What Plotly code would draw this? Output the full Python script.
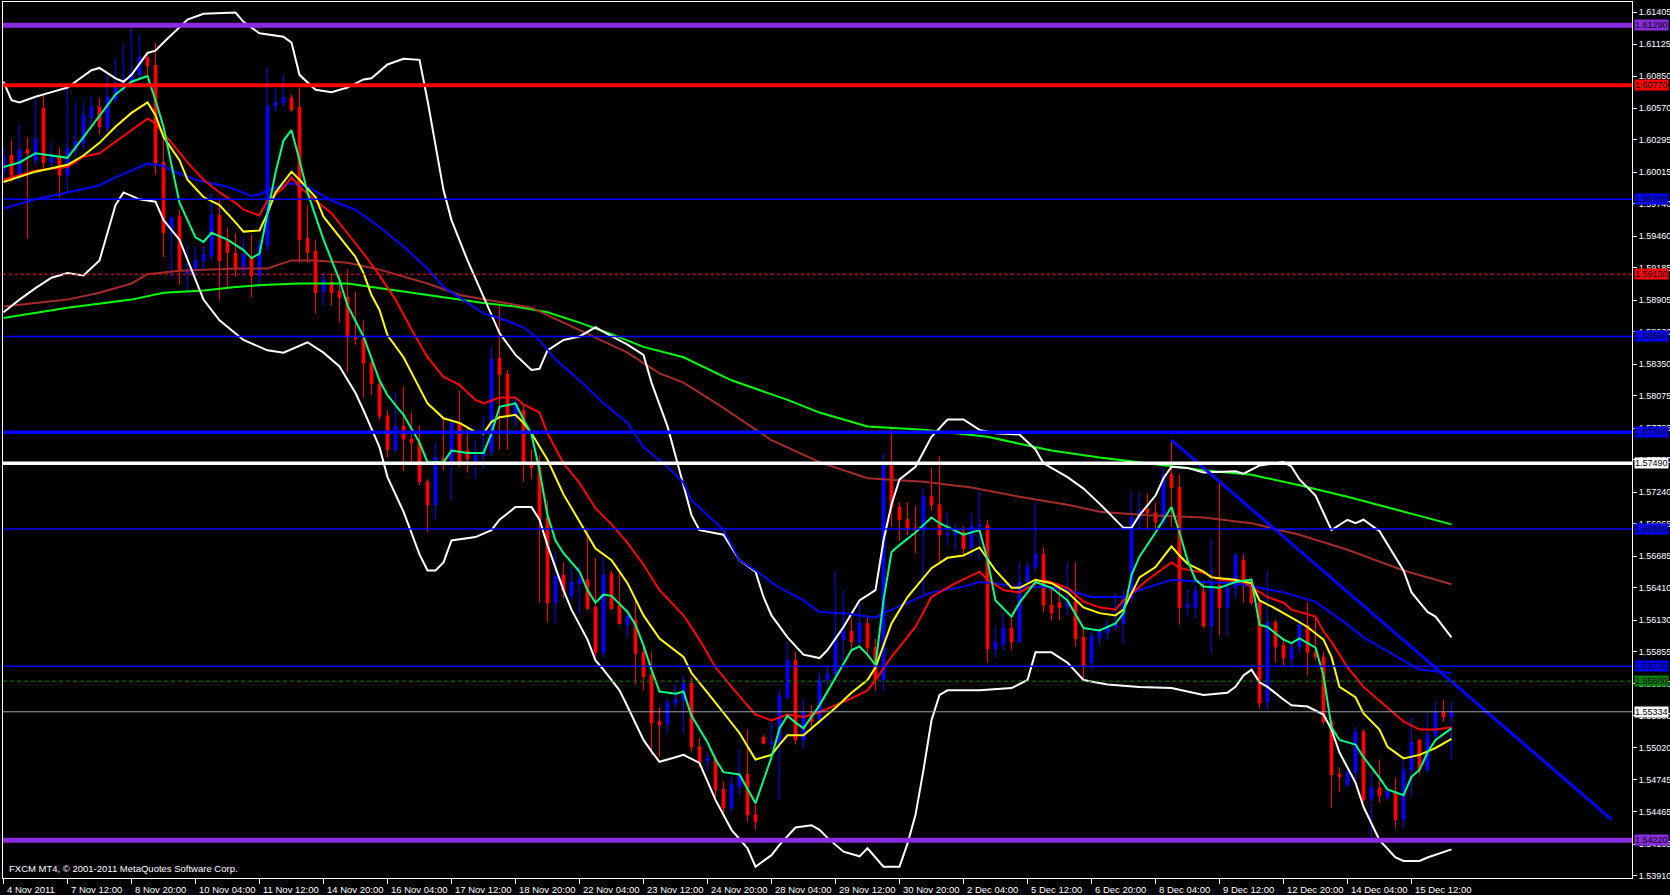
import plotly.graph_objects as go

# ---------------- data (H4 bars, 4 Nov 2011 .. 16 Dec 2011) ----------------
bars = list(range(182))

opens = [
    1.6001, 1.6016, 1.5999, 1.6021, 1.6012, 1.6057, 1.6010, 1.6016, 1.5999, 1.6021,
    1.6027, 1.6049, 1.6058, 1.6040, 1.6065, 1.6075, 1.6080, 1.6086, 1.6101, 1.6094,
    1.6010, 1.5949, 1.5963, 1.5914, 1.5918, 1.5925, 1.5929, 1.5964, 1.5943, 1.5931,
    1.5917, 1.5928, 1.5912, 1.5938, 1.6059, 1.6062, 1.6066, 1.6058, 1.5944, 1.5933,
    1.5898, 1.5906, 1.5898, 1.5893, 1.5858, 1.5857, 1.5836, 1.5818, 1.5790, 1.5761,
    1.5781, 1.5770, 1.5767, 1.5733, 1.5713, 1.5753, 1.5749, 1.5783, 1.5760, 1.5749,
    1.5756, 1.5759, 1.5840, 1.5826, 1.5788, 1.5795, 1.5749, 1.5745, 1.5702, 1.5628,
    1.5652, 1.5634, 1.5645, 1.5648, 1.5624, 1.5585, 1.5653, 1.5626, 1.5609, 1.5613,
    1.5585, 1.5565, 1.5525, 1.5523, 1.5541, 1.5543, 1.5558, 1.5503, 1.5491, 1.5493,
    1.5466, 1.5450, 1.5468, 1.5479, 1.5444, 1.5511, 1.5506, 1.5506, 1.5546, 1.5578,
    1.5509, 1.5533, 1.5525, 1.5561, 1.5566, 1.5596, 1.5603, 1.5594, 1.5610, 1.5589,
    1.5561, 1.5747, 1.5711, 1.5700, 1.5693, 1.5691, 1.5720, 1.5713, 1.5687, 1.5687,
    1.5689, 1.5676, 1.5694, 1.5695, 1.5588, 1.5592, 1.5606, 1.5594, 1.5646, 1.5659,
    1.5670, 1.5626, 1.5628, 1.5625, 1.5629, 1.5598, 1.5576, 1.5597, 1.5602, 1.5607,
    1.5610, 1.5632, 1.5701, 1.5709, 1.5706, 1.5698, 1.5739, 1.5728, 1.5624, 1.5624,
    1.5638, 1.5608, 1.5643, 1.5624, 1.5641, 1.5665, 1.5645, 1.5628, 1.5542, 1.5611,
    1.5591, 1.5579, 1.5590, 1.5608, 1.5585, 1.5581, 1.5525, 1.5479, 1.5470, 1.5481,
    1.5516, 1.5458, 1.5467, 1.5459, 1.5464, 1.5440, 1.5483, 1.5509, 1.5483, 1.5513,
    1.5533, 1.5529,
]

highs = [
    1.6023, 1.6029, 1.6042, 1.6032, 1.6064, 1.6068, 1.6027, 1.6023, 1.6075, 1.6062,
    1.6062, 1.6068, 1.6066, 1.6086, 1.6099, 1.6112, 1.6127, 1.6120, 1.6106, 1.6114,
    1.6035, 1.5963, 1.5969, 1.5937, 1.5937, 1.5937, 1.5983, 1.5977, 1.5953, 1.5949,
    1.5945, 1.5947, 1.5943, 1.6092, 1.6075, 1.6086, 1.6069, 1.6075, 1.5973, 1.5943,
    1.5914, 1.5914, 1.5912, 1.5917, 1.5898, 1.5873, 1.5843, 1.5821, 1.5795, 1.5811,
    1.5815, 1.5793, 1.5782, 1.5735, 1.5767, 1.5788, 1.5789, 1.5812, 1.5781, 1.5769,
    1.5790, 1.5850, 1.5886, 1.5830, 1.5806, 1.5800, 1.5761, 1.5756, 1.5717, 1.5672,
    1.5663, 1.5659, 1.5659, 1.5691, 1.5667, 1.5668, 1.5656, 1.5655, 1.5622, 1.5633,
    1.5591, 1.5585, 1.5537, 1.5545, 1.5557, 1.5565, 1.5563, 1.5511, 1.5498, 1.5496,
    1.5473, 1.5476, 1.5500, 1.5518, 1.5453, 1.5513, 1.5525, 1.5552, 1.5593, 1.5585,
    1.5544, 1.5539, 1.5568, 1.5574, 1.5655, 1.5638, 1.5615, 1.5627, 1.5617, 1.5597,
    1.5757, 1.5780, 1.5715, 1.5715, 1.5712, 1.5728, 1.5745, 1.5755, 1.5707, 1.5696,
    1.5694, 1.5706, 1.5724, 1.5700, 1.5607, 1.5619, 1.5615, 1.5663, 1.5663, 1.5715,
    1.5676, 1.5641, 1.5642, 1.5663, 1.5663, 1.5607, 1.5603, 1.5607, 1.5613, 1.5636,
    1.5639, 1.5723, 1.5723, 1.5723, 1.5715, 1.5745, 1.5769, 1.5739, 1.5639, 1.5643,
    1.5645, 1.5682, 1.5732, 1.5646, 1.5671, 1.5670, 1.5650, 1.5629, 1.5656, 1.5613,
    1.5596, 1.5593, 1.5613, 1.5628, 1.5615, 1.5585, 1.5526, 1.5485, 1.5483, 1.5520,
    1.5518, 1.5480, 1.5492, 1.5467, 1.5476, 1.5492, 1.5528, 1.5509, 1.5532, 1.5542,
    1.5544, 1.5542,
]

lows = [
    1.5996, 1.5993, 1.5993, 1.5944, 1.6008, 1.6005, 1.6005, 1.5980, 1.5984, 1.6016,
    1.6022, 1.6042, 1.6034, 1.6036, 1.6062, 1.6071, 1.6076, 1.6081, 1.6086, 1.5999,
    1.5928, 1.5910, 1.5904, 1.5899, 1.5912, 1.5917, 1.5925, 1.5891, 1.5902, 1.5911,
    1.5912, 1.5893, 1.5901, 1.5934, 1.6054, 1.6059, 1.6054, 1.5923, 1.5923, 1.5879,
    1.5886, 1.5886, 1.5871, 1.5828, 1.5852, 1.5806, 1.5808, 1.5787, 1.5754, 1.5759,
    1.5742, 1.5749, 1.5730, 1.5689, 1.5700, 1.5743, 1.5717, 1.5746, 1.5741, 1.5736,
    1.5745, 1.5756, 1.5761, 1.5761, 1.5781, 1.5733, 1.5735, 1.5628, 1.5611, 1.5610,
    1.5632, 1.5630, 1.5619, 1.5622, 1.5581, 1.5581, 1.5622, 1.5609, 1.5598, 1.5557,
    1.5552, 1.5496, 1.5494, 1.5516, 1.5537, 1.5515, 1.5499, 1.5485, 1.5483, 1.5459,
    1.5444, 1.5447, 1.5461, 1.5438, 1.5431, 1.5505, 1.5502, 1.5457, 1.5544, 1.5505,
    1.5502, 1.5518, 1.5522, 1.5557, 1.5561, 1.5577, 1.5587, 1.5589, 1.5583, 1.5552,
    1.5552, 1.5694, 1.5682, 1.5687, 1.5671, 1.5635, 1.5708, 1.5663, 1.5678, 1.5674,
    1.5670, 1.5668, 1.5665, 1.5576, 1.5581, 1.5587, 1.5587, 1.5593, 1.5643, 1.5656,
    1.5620, 1.5613, 1.5613, 1.5617, 1.5590, 1.5563, 1.5570, 1.5591, 1.5596, 1.5604,
    1.5593, 1.5628, 1.5691, 1.5691, 1.5691, 1.5695, 1.5694, 1.5609, 1.5616, 1.5615,
    1.5606, 1.5584, 1.5600, 1.5600, 1.5632, 1.5628, 1.5626, 1.5537, 1.5535, 1.5576,
    1.5574, 1.5572, 1.5584, 1.5565, 1.5578, 1.5522, 1.5450, 1.5464, 1.5468, 1.5472,
    1.5455, 1.5422, 1.5454, 1.5457, 1.5433, 1.5433, 1.5461, 1.5479, 1.5481, 1.5509,
    1.5525, 1.5492,
]

closes = [
    1.6016, 1.5999, 1.6021, 1.6018, 1.6030, 1.6010, 1.6015, 1.5999, 1.6022, 1.6028,
    1.6051, 1.6058, 1.6041, 1.6067, 1.6075, 1.6080, 1.6088, 1.6101, 1.6094, 1.6010,
    1.5949, 1.5962, 1.5917, 1.5917, 1.5925, 1.5930, 1.5964, 1.5925, 1.5932, 1.5917,
    1.5930, 1.5912, 1.5938, 1.6059, 1.6062, 1.6066, 1.6056, 1.5943, 1.5932, 1.5897,
    1.5908, 1.5897, 1.5893, 1.5858, 1.5857, 1.5836, 1.5818, 1.5790, 1.5761, 1.5781,
    1.5770, 1.5767, 1.5733, 1.5713, 1.5754, 1.5749, 1.5784, 1.5749, 1.5753, 1.5756,
    1.5759, 1.5839, 1.5826, 1.5791, 1.5802, 1.5749, 1.5745, 1.5700, 1.5628, 1.5651,
    1.5638, 1.5646, 1.5648, 1.5623, 1.5585, 1.5652, 1.5623, 1.5610, 1.5616, 1.5584,
    1.5564, 1.5524, 1.5522, 1.5541, 1.5544, 1.5558, 1.5503, 1.5490, 1.5493, 1.5466,
    1.5450, 1.5470, 1.5479, 1.5444, 1.5438, 1.5506, 1.5507, 1.5547, 1.5578, 1.5509,
    1.5533, 1.5525, 1.5561, 1.5566, 1.5598, 1.5603, 1.5594, 1.5610, 1.5589, 1.5561,
    1.5747, 1.5711, 1.5700, 1.5693, 1.5691, 1.5720, 1.5713, 1.5687, 1.5688, 1.5689,
    1.5675, 1.5694, 1.5696, 1.5588, 1.5594, 1.5606, 1.5594, 1.5646, 1.5659, 1.5670,
    1.5626, 1.5619, 1.5624, 1.5629, 1.5597, 1.5573, 1.5599, 1.5603, 1.5608, 1.5610,
    1.5632, 1.5702, 1.5708, 1.5706, 1.5698, 1.5739, 1.5728, 1.5624, 1.5627, 1.5638,
    1.5608, 1.5645, 1.5624, 1.5641, 1.5669, 1.5645, 1.5628, 1.5541, 1.5611, 1.5590,
    1.5580, 1.5589, 1.5609, 1.5585, 1.5581, 1.5525, 1.5479, 1.5477, 1.5481, 1.5516,
    1.5457, 1.5468, 1.5461, 1.5464, 1.5440, 1.5483, 1.5507, 1.5483, 1.5513, 1.5533,
    1.5529, 1.55334,
]

# indicator lines (bar index, price)
fast_ma_x = [0, 2, 4, 6, 8, 10, 12, 14, 16, 18, 19, 20, 22, 24, 25, 26, 28, 30, 31, 32,
             33, 34, 35, 36, 37, 38, 40, 42, 43, 45, 47, 48, 50, 52, 53, 55, 56, 58, 60, 61,
             62, 64, 65, 66, 67, 68, 69, 70, 72, 73, 74, 75, 76, 78, 79, 80, 81, 82, 84, 85,
             86, 87, 88, 89, 90, 92, 93, 94, 95, 96, 97, 98, 99, 100, 102, 104, 106, 107, 108, 109,
             110, 111, 112, 114, 116, 117, 120, 122, 123, 124, 126, 127, 129, 131, 133, 135, 137, 139, 140, 141,
             142, 144, 146, 147, 148, 149, 150, 152, 154, 156, 157, 158, 160, 161, 162, 164, 165, 166, 167, 169,
             170, 172, 173, 175, 176, 177, 178, 179, 181]
fast_ma = [1.6006, 1.6010, 1.6018, 1.6016, 1.6014, 1.6032, 1.6050, 1.6069, 1.6080, 1.6085,
           1.6064, 1.6041, 1.5975, 1.5945, 1.5941, 1.5949, 1.5943, 1.5934, 1.5927, 1.5931,
           1.5966, 1.6001, 1.6029, 1.6038, 1.6012, 1.5984, 1.5943, 1.5908, 1.5886, 1.5859,
           1.5821, 1.5808, 1.5791, 1.5767, 1.5750, 1.5750, 1.5760, 1.5758, 1.5758, 1.5775,
           1.5798, 1.5801, 1.5787, 1.5774, 1.5743, 1.5704, 1.5682, 1.5671, 1.5655, 1.5639,
           1.5628, 1.5635, 1.5634, 1.5620, 1.5609, 1.5591, 1.5570, 1.5551, 1.5549, 1.5551,
           1.5530, 1.5518, 1.5507, 1.5492, 1.5481, 1.5479, 1.5466, 1.5454, 1.5474, 1.5494,
           1.5519, 1.5530, 1.5524, 1.5519, 1.5539, 1.5563, 1.5587, 1.5590, 1.5583, 1.5574,
           1.5630, 1.5672, 1.5678, 1.5689, 1.5702, 1.5697, 1.5687, 1.5691, 1.5665, 1.5630,
           1.5616, 1.5628, 1.5646, 1.5641, 1.5630, 1.5606, 1.5604, 1.5610, 1.5619, 1.5652,
           1.5668, 1.5689, 1.5711, 1.5689, 1.5665, 1.5648, 1.5642, 1.5641, 1.5646, 1.5648,
           1.5609, 1.5607, 1.5596, 1.5593, 1.5597, 1.5589, 1.5565, 1.5520, 1.5509, 1.5505,
           1.5494, 1.5476, 1.5466, 1.5461, 1.5477, 1.5483, 1.5498, 1.5509, 1.5519]

yellow_ma_x = [0, 4, 8, 10, 12, 14, 16, 18, 19, 20, 22, 23, 25, 27, 29, 30, 32, 33, 34, 36,
               37, 39, 40, 42, 44, 45, 46, 47, 48, 50, 53, 55, 57, 59, 60, 61, 62, 64, 65, 66,
               68, 70, 72, 74, 76, 78, 80, 82, 85, 86, 88, 90, 92, 94, 96, 97, 98, 100, 102, 104,
               106, 108, 109, 111, 113, 116, 118, 120, 122, 124, 126, 127, 129, 131, 133, 135, 137, 139, 140, 142,
               144, 146, 147, 148, 150, 151, 154, 156, 157, 159, 161, 163, 165, 166, 167, 169, 170, 172, 173, 175,
               177, 179, 181]
yellow_ma = [1.5993, 1.6002, 1.6008, 1.6016, 1.6027, 1.6041, 1.6053, 1.6062, 1.6051, 1.6032,
             1.6012, 1.5995, 1.5980, 1.5973, 1.5958, 1.5950, 1.5951, 1.5966, 1.5984, 1.6002,
             1.5995, 1.5980, 1.5963, 1.5945, 1.5928, 1.5914, 1.5895, 1.5882, 1.5860, 1.5841,
             1.5801, 1.5788, 1.5784, 1.5776, 1.5775, 1.5785, 1.5789, 1.5791, 1.5784, 1.5775,
             1.5752, 1.5722, 1.5698, 1.5675, 1.5665, 1.5645, 1.5617, 1.5597, 1.5581, 1.5567,
             1.5550, 1.5532, 1.5515, 1.5492, 1.5496, 1.5505, 1.5513, 1.5513, 1.5525, 1.5537,
             1.5550, 1.5561, 1.5572, 1.5610, 1.5633, 1.5658, 1.5667, 1.5669, 1.5676, 1.5656,
             1.5641, 1.5641, 1.5648, 1.5645, 1.5637, 1.5624, 1.5619, 1.5617, 1.5622, 1.5650,
             1.5659, 1.5677, 1.5669, 1.5662, 1.5655, 1.5650, 1.5648, 1.5645, 1.5630, 1.5623,
             1.5615, 1.5607, 1.5596, 1.5581, 1.5555, 1.5546, 1.5532, 1.5518, 1.5503, 1.5493,
             1.5496, 1.5502, 1.5510]

red_ma_x = [0, 4, 8, 10, 12, 14, 16, 18, 19, 21, 23, 25, 27, 29, 30, 32, 33, 35, 36, 37,
            39, 41, 43, 45, 47, 49, 51, 53, 55, 57, 59, 60, 62, 64, 65, 67, 68, 70, 72, 74,
            76, 78, 80, 82, 85, 87, 89, 91, 94, 96, 98, 100, 102, 104, 106, 108, 109, 111, 114, 116,
            119, 122, 123, 125, 127, 130, 133, 135, 137, 139, 140, 143, 146, 147, 150, 152, 155, 158, 160, 161,
            164, 165, 166, 168, 170, 173, 175, 177, 179, 181]
red_ma = [1.5995, 1.6003, 1.6006, 1.6015, 1.6018, 1.6028, 1.6038, 1.6048, 1.6044, 1.6027,
          1.6010, 1.5995, 1.5984, 1.5975, 1.5969, 1.5964, 1.5977, 1.5988, 1.5997, 1.5989,
          1.5977, 1.5966, 1.5949, 1.5931, 1.5912, 1.5891, 1.5865, 1.5841, 1.5824, 1.5817,
          1.5804, 1.5801, 1.5806, 1.5806, 1.5800, 1.5793, 1.5775, 1.5749, 1.5732, 1.5710,
          1.5696, 1.5680, 1.5661, 1.5639, 1.5617, 1.5596, 1.5572, 1.5555, 1.5531, 1.5526,
          1.5531, 1.5529, 1.5533, 1.5539, 1.5545, 1.5552, 1.5561, 1.5581, 1.5607, 1.5633,
          1.5645, 1.5655, 1.5648, 1.5639, 1.5637, 1.5648, 1.5641, 1.5629, 1.5624, 1.5622,
          1.5630, 1.5648, 1.5663, 1.5658, 1.5654, 1.5648, 1.5646, 1.5633, 1.5628, 1.5622,
          1.5616, 1.5603, 1.5594, 1.5572, 1.5555, 1.5537, 1.5525, 1.5518, 1.5518, 1.5520]

blue_ma_x = [0, 4, 8, 12, 14, 16, 18, 20, 21, 24, 28, 31, 32, 33, 36, 38, 41, 44, 47, 50,
             53, 55, 58, 60, 62, 65, 67, 69, 72, 75, 78, 80, 83, 85, 86, 90, 92, 94, 97, 100,
             102, 105, 108, 109, 110, 113, 116, 120, 122, 124, 127, 130, 133, 136, 140, 142, 146, 150, 154, 157,
             160, 164, 166, 168, 170, 175, 177, 181]
blue_ma = [1.5970, 1.5978, 1.5984, 1.5990, 1.5997, 1.6003, 1.6009, 1.6007, 1.6003, 1.5995,
           1.5989, 1.5981, 1.5982, 1.5986, 1.5992, 1.5989, 1.5977, 1.5969, 1.5954, 1.5937,
           1.5918, 1.5902, 1.5888, 1.5879, 1.5875, 1.5867, 1.5856, 1.5839, 1.5821, 1.5801,
           1.5784, 1.5763, 1.5746, 1.5732, 1.5717, 1.5691, 1.5665, 1.5656, 1.5641, 1.5630,
           1.5620, 1.5619, 1.5616, 1.5615, 1.5619, 1.5628, 1.5637, 1.5642, 1.5646, 1.5645,
           1.5641, 1.5642, 1.5639, 1.5633, 1.5633, 1.5639, 1.5648, 1.5646, 1.5645, 1.5641,
           1.5637, 1.5629, 1.5619, 1.5609, 1.5598, 1.5578, 1.5570, 1.5567]

brown_ma_x = [0, 8, 12, 16, 18, 22, 29, 33, 36, 39, 43, 47, 53, 57, 62, 66, 70, 74, 78, 82,
              85, 90, 96, 102, 108, 115, 121, 127, 133, 137, 143, 150, 156, 162, 168, 175, 181]
brown_ma = [1.5885, 1.5891, 1.5897, 1.5905, 1.5913, 1.5916, 1.5918, 1.5918, 1.5925, 1.5925,
            1.5923, 1.5917, 1.5905, 1.5895, 1.5889, 1.5884, 1.5871, 1.5858, 1.5845, 1.5827,
            1.5819, 1.5797, 1.5769, 1.5750, 1.5736, 1.5733, 1.5728, 1.5720, 1.5713, 1.5707,
            1.5704, 1.5702, 1.5697, 1.5687, 1.5674, 1.5656, 1.5644]

lime_ma_x = [0, 8, 16, 20, 25, 29, 33, 37, 43, 47, 51, 55, 60, 64, 68, 72, 76, 80, 85, 91,
             98, 102, 108, 115, 123, 131, 137, 143, 150, 156, 162, 168, 175, 181]
lime_ma = [1.5875, 1.5884, 1.5891, 1.5897, 1.5899, 1.5902, 1.5904, 1.5905, 1.5905, 1.5901,
           1.5897, 1.5893, 1.5888, 1.5885, 1.5880, 1.5871, 1.5861, 1.5850, 1.5841, 1.5821,
           1.5804, 1.5793, 1.5781, 1.5778, 1.5772, 1.5760, 1.5754, 1.5749, 1.5743, 1.5739,
           1.5730, 1.5720, 1.5707, 1.5696]

bb_upper_x = [0, 1, 2, 4, 6, 8, 9, 11, 12, 14, 15, 16, 18, 19, 20, 22, 23, 25, 29, 30,
              32, 35, 36, 37, 39, 41, 43, 45, 46, 48, 50, 52, 53, 55, 56, 58, 60, 62, 64, 66,
              67, 68, 70, 72, 74, 75, 78, 80, 81, 83, 85, 86, 87, 90, 92, 94, 95, 96, 98, 100,
              102, 103, 105, 107, 109, 110, 111, 112, 114, 116, 118, 120, 122, 124, 127, 129, 130, 133, 135, 137,
              140, 141, 142, 144, 145, 146, 148, 150, 154, 155, 157, 160, 161, 162, 164, 166, 168, 169, 170, 172,
              175, 176, 178, 179, 181]
bb_upper = [1.6080, 1.6064, 1.6062, 1.6067, 1.6071, 1.6075, 1.6080, 1.6090, 1.6092, 1.6083,
            1.6080, 1.6086, 1.6105, 1.6107, 1.6114, 1.6127, 1.6134, 1.6139, 1.6140, 1.6132,
            1.6122, 1.6119, 1.6114, 1.6086, 1.6073, 1.6071, 1.6075, 1.6082, 1.6083, 1.6095,
            1.6100, 1.6099, 1.6064, 1.5986, 1.5960, 1.5925, 1.5893, 1.5862, 1.5843, 1.5830,
            1.5831, 1.5847, 1.5856, 1.5859, 1.5867, 1.5863, 1.5852, 1.5843, 1.5819, 1.5781,
            1.5730, 1.5704, 1.5691, 1.5687, 1.5665, 1.5655, 1.5633, 1.5617, 1.5598, 1.5583,
            1.5580, 1.5587, 1.5607, 1.5630, 1.5639, 1.5682, 1.5713, 1.5735, 1.5746, 1.5772,
            1.5787, 1.5787, 1.5778, 1.5775, 1.5774, 1.5761, 1.5749, 1.5737, 1.5727, 1.5714,
            1.5693, 1.5693, 1.5704, 1.5721, 1.5736, 1.5746, 1.5745, 1.5741, 1.5742, 1.5740,
            1.5747, 1.5750, 1.5746, 1.5735, 1.5721, 1.5691, 1.5700, 1.5697, 1.5700, 1.5690,
            1.5656, 1.5637, 1.5620, 1.5616, 1.5598]

bb_lower_x = [0, 2, 4, 6, 8, 10, 12, 13, 14, 15, 17, 19, 20, 22, 24, 25, 27, 30, 33, 35,
              38, 40, 42, 44, 45, 47, 48, 50, 52, 53, 54, 55, 56, 58, 59, 61, 62, 64, 66, 67,
              68, 70, 71, 73, 74, 75, 77, 78, 80, 81, 82, 84, 85, 87, 89, 91, 93, 94, 96, 97,
              99, 101, 102, 103, 104, 105, 107, 108, 110, 112, 113, 114, 115, 116, 117, 118, 122, 126, 128, 129,
              131, 133, 135, 138, 142, 146, 148, 150, 153, 154, 155, 156, 157, 158, 160, 161, 163, 165, 166, 167,
              169, 170, 172, 174, 175, 177, 178, 181]
bb_lower = [1.5880, 1.5891, 1.5901, 1.5910, 1.5914, 1.5912, 1.5925, 1.5949, 1.5973, 1.5984,
            1.5978, 1.5976, 1.5960, 1.5943, 1.5908, 1.5891, 1.5873, 1.5856, 1.5847, 1.5845,
            1.5854, 1.5845, 1.5833, 1.5810, 1.5795, 1.5763, 1.5737, 1.5707, 1.5670, 1.5656,
            1.5656, 1.5663, 1.5682, 1.5684, 1.5685, 1.5691, 1.5700, 1.5711, 1.5711, 1.5700,
            1.5678, 1.5639, 1.5622, 1.5596, 1.5578, 1.5570, 1.5552, 1.5538, 1.5509, 1.5499,
            1.5490, 1.5494, 1.5496, 1.5489, 1.5457, 1.5431, 1.5415, 1.5399, 1.5409, 1.5418,
            1.5433, 1.5435, 1.5431, 1.5424, 1.5418, 1.5412, 1.5408, 1.5415, 1.5399, 1.5399,
            1.5419, 1.5444, 1.5483, 1.5526, 1.5548, 1.5552, 1.5552, 1.5554, 1.5561, 1.5585,
            1.5585, 1.5576, 1.5561, 1.5557, 1.5555, 1.5554, 1.5551, 1.5548, 1.5550, 1.5555,
            1.5565, 1.5570, 1.5559, 1.5555, 1.5544, 1.5539, 1.5538, 1.5531, 1.5518, 1.5498,
            1.5472, 1.5451, 1.5422, 1.5407, 1.5404, 1.5404, 1.5407, 1.5414]

trend_x = [146, 201]
trend_y = [1.5769, 1.5440]

levels = [1.61290, 1.60770, 1.59780, 1.59130, 1.58590, 1.57760,
          1.57490, 1.56920, 1.55730, 1.55600, 1.55334, 1.54220]

price_ticks = [1.61405, 1.61125, 1.60850, 1.60570, 1.60295, 1.60015, 1.59740,
               1.59460, 1.59185, 1.58905, 1.58630, 1.58350, 1.58075, 1.57795,
               1.57520, 1.57240, 1.56965, 1.56685, 1.56410, 1.56130, 1.55855,
               1.55580, 1.55300, 1.55020, 1.54745, 1.54465, 1.54185, 1.53910]

time_tick_bars = list(range(0, 177, 8))
time_tick_labels = ["4 Nov 2011", "7 Nov 12:00", "8 Nov 20:00", "10 Nov 04:00", "11 Nov 12:00",
                    "14 Nov 20:00", "16 Nov 04:00", "17 Nov 12:00", "18 Nov 20:00", "22 Nov 04:00",
                    "23 Nov 12:00", "24 Nov 20:00", "28 Nov 04:00", "29 Nov 12:00", "30 Nov 20:00",
                    "2 Dec 04:00", "5 Dec 12:00", "6 Dec 20:00", "8 Dec 04:00", "9 Dec 12:00",
                    "12 Dec 20:00", "14 Dec 04:00", "15 Dec 12:00"]

# ---------------- styles ----------------
level_styles = [
    ("#8A2BE2", 5, "solid"), ("#FF0000", 4, "solid"), ("#0000FF", 1.5, "solid"),
    ("#FF0000", 1, "3px,3px"), ("#0000FF", 1.5, "solid"), ("#0000FF", 3.5, "solid"),
    ("#FFFFFF", 3.5, "solid"), ("#0000FF", 1.5, "solid"), ("#0000FF", 1.5, "solid"),
    ("#008000", 1, "4px,3px"), ("#9AA3AD", 1, "solid"), ("#8A2BE2", 5, "solid"),
]
label_bg = ["#8A2BE2", "#FF0000", "#0000FF", "#FF0000", "#0000FF", "#0000FF",
            "#FFFFFF", "#0000FF", "#0000FF", "#008000", "#FFFFFF", "#8A2BE2"]

FONT = "Liberation Sans, Arial, sans-serif"
AXIS_FS = 9

fig = go.Figure()

fig.add_trace(go.Candlestick(
    x=bars, open=opens, high=highs, low=lows, close=closes,
    increasing=dict(line=dict(color="#0000FF", width=1), fillcolor="#0000FF"),
    decreasing=dict(line=dict(color="#FF0000", width=1), fillcolor="#FF0000"),
    whiskerwidth=0, showlegend=False, hoverinfo="skip",
))

line_specs = [
    (lime_ma_x, lime_ma, "#00FF00"),
    (brown_ma_x, brown_ma, "#A52A2A"),
    (bb_upper_x, bb_upper, "#FFFFFF"),
    (bb_lower_x, bb_lower, "#FFFFFF"),
    (blue_ma_x, blue_ma, "#0000FF"),
    (red_ma_x, red_ma, "#FF0000"),
    (yellow_ma_x, yellow_ma, "#FFFF00"),
    (fast_ma_x, fast_ma, "#00FF7F"),
]
for xs, ys, col in line_specs:
    fig.add_trace(go.Scatter(x=xs, y=ys, mode="lines", line=dict(color=col, width=2),
                             hoverinfo="skip", showlegend=False))

fig.add_trace(go.Scatter(x=trend_x, y=trend_y, mode="lines",
                         line=dict(color="#0000FF", width=3), hoverinfo="skip", showlegend=False))

for lv, (col, w, dash), bg in zip(levels, level_styles, label_bg):
    fig.add_shape(type="line", xref="paper", x0=0, x1=1, yref="y", y0=lv, y1=lv,
                  line=dict(color=col, width=w, dash=dash), layer="above")
    fig.add_annotation(xref="paper", x=1, xanchor="left", xshift=2, yref="y", y=lv,
                       yanchor="middle", text=f"{lv:.5f}", showarrow=False,
                       font=dict(family=FONT, size=AXIS_FS, color="#000000"),
                       bgcolor=bg, borderpad=0)

# time labels: left-aligned just right of each tick, as in MT4
for b, lab in zip(time_tick_bars, time_tick_labels):
    fig.add_annotation(xref="x", x=b, yref="paper", y=0, xanchor="left", yanchor="top",
                       xshift=1, yshift=-4, text=lab, showarrow=False,
                       font=dict(family=FONT, size=9.5, color="#FFFFFF"))

fig.add_annotation(xref="paper", yref="paper", x=0, y=0, xanchor="left", yanchor="bottom",
                   xshift=4, yshift=2, showarrow=False,
                   text="FXCM MT4, © 2001-2011 MetaQuotes Software Corp.",
                   font=dict(family=FONT, size=9.5, color="#FFFFFF"))

fig.update_layout(
    width=1670, height=895, autosize=False,
    paper_bgcolor="#000000", plot_bgcolor="#000000",
    margin=dict(l=3, r=38, t=2, b=17),
    showlegend=False, boxgap=0.5,
    font=dict(family=FONT, size=9.5, color="#FFFFFF"),
    xaxis=dict(
        range=[-0.0625, 203.5625], showgrid=False, zeroline=False,
        showline=True, linecolor="#FFFFFF", linewidth=1, mirror=True,
        ticks="outside", ticklen=5, tickcolor="#FFFFFF", tickwidth=1,
        tickvals=time_tick_bars, showticklabels=False,
        rangeslider=dict(visible=False), automargin=False, fixedrange=True,
    ),
    yaxis=dict(
        side="right", range=[1.53892, 1.61492], showgrid=False, zeroline=False,
        showline=True, linecolor="#FFFFFF", linewidth=1, mirror=True,
        ticks="outside", ticklen=4, tickcolor="#FFFFFF", tickwidth=1,
        tickvals=price_ticks, ticktext=[f"{v:.5f}" for v in price_ticks],
        tickfont=dict(family=FONT, size=AXIS_FS, color="#FFFFFF"),
        automargin=False, fixedrange=True,
    ),
)

fig.write_html("out.html", config={"displayModeBar": False},
               post_script="document.body.style.margin='0px';document.body.style.overflow='hidden';")
